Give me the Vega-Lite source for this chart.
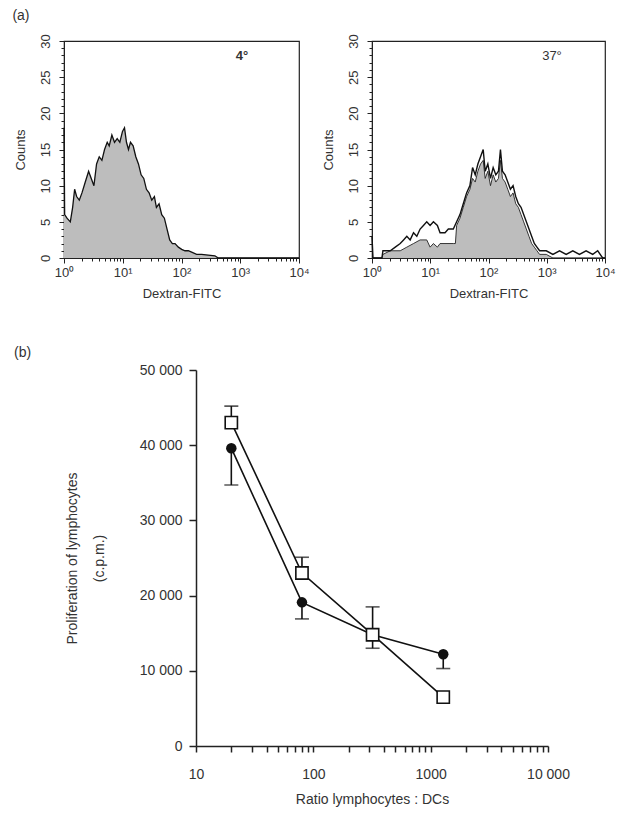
{
  "$schema": "https://vega.github.io/schema/vega-lite/v6.json",
  "background": "white",
  "padding": {"left": 12, "top": 9, "right": 5, "bottom": 5},
  "config": {
    "font": "Liberation Sans",
    "axis": {"labelFont": "Liberation Sans", "titleFont": "Liberation Sans", "labelColor": "#333", "titleColor": "#333", "titleFontWeight": "normal", "domainColor": "#222", "tickColor": "#222", "grid": false, "labelOverlap": false, "labelFlush": false, "labelBound": false},
    "title": {"font": "Liberation Sans", "fontWeight": "normal", "color": "#333"}
  },
  "datasets": {
    "hist4": [
      {"fitc": 1, "count": 18}, {"fitc": 1.026, "count": 6}, {"fitc": 1.124, "count": 5.5}, {"fitc": 1.281, "count": 5},
      {"fitc": 1.403, "count": 7}, {"fitc": 1.517, "count": 9.5}, {"fitc": 1.641, "count": 8.5}, {"fitc": 1.821, "count": 8},
      {"fitc": 2.021, "count": 9}, {"fitc": 2.302, "count": 10.5}, {"fitc": 2.623, "count": 12}, {"fitc": 2.91, "count": 11},
      {"fitc": 3.231, "count": 10}, {"fitc": 3.584, "count": 13}, {"fitc": 3.978, "count": 14}, {"fitc": 4.416, "count": 13.5},
      {"fitc": 4.9, "count": 15}, {"fitc": 5.44, "count": 16}, {"fitc": 5.88, "count": 15.5}, {"fitc": 6.53, "count": 17},
      {"fitc": 7.24, "count": 16}, {"fitc": 8.04, "count": 16.5}, {"fitc": 8.92, "count": 16}, {"fitc": 9.9, "count": 17.5},
      {"fitc": 10.71, "count": 18}, {"fitc": 11.58, "count": 16}, {"fitc": 12.52, "count": 15}, {"fitc": 13.54, "count": 16},
      {"fitc": 15.03, "count": 15.5}, {"fitc": 16.68, "count": 14}, {"fitc": 18.51, "count": 13}, {"fitc": 20.54, "count": 11.5},
      {"fitc": 22.8, "count": 11}, {"fitc": 25.3, "count": 9.5}, {"fitc": 28.08, "count": 9}, {"fitc": 31.16, "count": 8},
      {"fitc": 34.58, "count": 8.5}, {"fitc": 37.4, "count": 7}, {"fitc": 41.51, "count": 7.5}, {"fitc": 46.06, "count": 6},
      {"fitc": 51.12, "count": 5.5}, {"fitc": 56.74, "count": 4}, {"fitc": 62.97, "count": 2.5}, {"fitc": 69.89, "count": 2},
      {"fitc": 77.56, "count": 2}, {"fitc": 88.39, "count": 1.5}, {"fitc": 100.7, "count": 1.2}, {"fitc": 114.7, "count": 1},
      {"fitc": 130.6, "count": 1}, {"fitc": 148.8, "count": 0.8}, {"fitc": 180.9, "count": 0.5}, {"fitc": 219.9, "count": 0.5},
      {"fitc": 285.4, "count": 0.4}, {"fitc": 370.4, "count": 0.3}, {"fitc": 421.9, "count": 0}, {"fitc": 10000, "count": 0}
    ],
    "hist37": [
      {"curve": "open", "fitc": 1, "count": 3}, {"curve": "open", "fitc": 1.04, "count": 0}, {"curve": "open", "fitc": 1.48, "count": 0},
      {"curve": "open", "fitc": 1.54, "count": 1}, {"curve": "open", "fitc": 2.06, "count": 1}, {"curve": "open", "fitc": 2.51, "count": 1.5},
      {"curve": "open", "fitc": 3.05, "count": 2}, {"curve": "open", "fitc": 3.48, "count": 2.5}, {"curve": "open", "fitc": 3.96, "count": 3},
      {"curve": "open", "fitc": 4.52, "count": 2.5}, {"curve": "open", "fitc": 5.16, "count": 3.5}, {"curve": "open", "fitc": 5.88, "count": 3},
      {"curve": "open", "fitc": 6.7, "count": 4}, {"curve": "open", "fitc": 7.64, "count": 4.5}, {"curve": "open", "fitc": 8.71, "count": 5},
      {"curve": "open", "fitc": 9.94, "count": 4.5}, {"curve": "open", "fitc": 11.33, "count": 5}, {"curve": "open", "fitc": 13.26, "count": 4.5},
      {"curve": "open", "fitc": 14.73, "count": 3.5}, {"curve": "open", "fitc": 17.93, "count": 3.5}, {"curve": "open", "fitc": 20.44, "count": 4},
      {"curve": "open", "fitc": 24.89, "count": 4}, {"curve": "open", "fitc": 28.38, "count": 5}, {"curve": "open", "fitc": 32.36, "count": 6},
      {"curve": "open", "fitc": 36.9, "count": 7.5}, {"curve": "open", "fitc": 42.06, "count": 9}, {"curve": "open", "fitc": 47.96, "count": 10},
      {"curve": "open", "fitc": 53.28, "count": 12.5}, {"curve": "open", "fitc": 59.17, "count": 11.5}, {"curve": "open", "fitc": 65.73, "count": 13},
      {"curve": "open", "fitc": 72.99, "count": 14}, {"curve": "open", "fitc": 81.08, "count": 15}, {"curve": "open", "fitc": 87.7, "count": 12},
      {"curve": "open", "fitc": 97.41, "count": 13}, {"curve": "open", "fitc": 108.2, "count": 11}, {"curve": "open", "fitc": 120.2, "count": 12.5},
      {"curve": "open", "fitc": 133.5, "count": 11.5}, {"curve": "open", "fitc": 148.2, "count": 12}, {"curve": "open", "fitc": 160.4, "count": 15},
      {"curve": "open", "fitc": 173.5, "count": 12}, {"curve": "open", "fitc": 192.7, "count": 11.5}, {"curve": "open", "fitc": 214.1, "count": 10.5},
      {"curve": "open", "fitc": 237.8, "count": 9.5}, {"curve": "open", "fitc": 264.1, "count": 10}, {"curve": "open", "fitc": 293.3, "count": 8.5},
      {"curve": "open", "fitc": 325.7, "count": 7.5}, {"curve": "open", "fitc": 361.8, "count": 7}, {"curve": "open", "fitc": 401.8, "count": 6},
      {"curve": "open", "fitc": 446.3, "count": 5}, {"curve": "open", "fitc": 495.7, "count": 4}, {"curve": "open", "fitc": 550.4, "count": 3},
      {"curve": "open", "fitc": 611.4, "count": 2}, {"curve": "open", "fitc": 679, "count": 1.5}, {"curve": "open", "fitc": 754.2, "count": 1},
      {"curve": "open", "fitc": 980.6, "count": 1}, {"curve": "open", "fitc": 1275, "count": 0.5}, {"curve": "open", "fitc": 1658, "count": 1},
      {"curve": "open", "fitc": 2154, "count": 0.5}, {"curve": "open", "fitc": 2801, "count": 1}, {"curve": "open", "fitc": 3641, "count": 0.5},
      {"curve": "open", "fitc": 4734, "count": 1}, {"curve": "open", "fitc": 6155, "count": 0.5}, {"curve": "open", "fitc": 7493, "count": 1},
      {"curve": "open", "fitc": 9124, "count": 0}, {"curve": "open", "fitc": 10000, "count": 0},
      {"curve": "filled", "fitc": 1, "count": 0}, {"curve": "filled", "fitc": 1.48, "count": 0}, {"curve": "filled", "fitc": 1.54, "count": 0.5},
      {"curve": "filled", "fitc": 2.06, "count": 1}, {"curve": "filled", "fitc": 3.05, "count": 1}, {"curve": "filled", "fitc": 3.96, "count": 1.5},
      {"curve": "filled", "fitc": 5.16, "count": 2}, {"curve": "filled", "fitc": 6.7, "count": 2.5}, {"curve": "filled", "fitc": 8.71, "count": 2.5},
      {"curve": "filled", "fitc": 9.94, "count": 1.5}, {"curve": "filled", "fitc": 11.33, "count": 2}, {"curve": "filled", "fitc": 13.26, "count": 1.5},
      {"curve": "filled", "fitc": 14.73, "count": 2}, {"curve": "filled", "fitc": 17.93, "count": 2}, {"curve": "filled", "fitc": 24.89, "count": 2},
      {"curve": "filled", "fitc": 27, "count": 2}, {"curve": "filled", "fitc": 28.38, "count": 4.5}, {"curve": "filled", "fitc": 32.36, "count": 5.5},
      {"curve": "filled", "fitc": 36.9, "count": 7}, {"curve": "filled", "fitc": 42.06, "count": 8.5}, {"curve": "filled", "fitc": 47.96, "count": 9.5},
      {"curve": "filled", "fitc": 53.28, "count": 11}, {"curve": "filled", "fitc": 59.17, "count": 10.5}, {"curve": "filled", "fitc": 65.73, "count": 12},
      {"curve": "filled", "fitc": 72.99, "count": 13}, {"curve": "filled", "fitc": 81.08, "count": 13.5}, {"curve": "filled", "fitc": 87.7, "count": 11},
      {"curve": "filled", "fitc": 97.41, "count": 12}, {"curve": "filled", "fitc": 108.2, "count": 10}, {"curve": "filled", "fitc": 120.2, "count": 11.5},
      {"curve": "filled", "fitc": 133.5, "count": 10.5}, {"curve": "filled", "fitc": 148.2, "count": 11}, {"curve": "filled", "fitc": 160.4, "count": 13.5},
      {"curve": "filled", "fitc": 173.5, "count": 11}, {"curve": "filled", "fitc": 192.7, "count": 10.5}, {"curve": "filled", "fitc": 214.1, "count": 9.5},
      {"curve": "filled", "fitc": 237.8, "count": 8.5}, {"curve": "filled", "fitc": 264.1, "count": 9}, {"curve": "filled", "fitc": 293.3, "count": 7.5},
      {"curve": "filled", "fitc": 325.7, "count": 7}, {"curve": "filled", "fitc": 361.8, "count": 6}, {"curve": "filled", "fitc": 401.8, "count": 5},
      {"curve": "filled", "fitc": 446.3, "count": 4}, {"curve": "filled", "fitc": 495.7, "count": 3}, {"curve": "filled", "fitc": 550.4, "count": 2},
      {"curve": "filled", "fitc": 611.4, "count": 1.5}, {"curve": "filled", "fitc": 679, "count": 1}, {"curve": "filled", "fitc": 754.2, "count": 0.5},
      {"curve": "filled", "fitc": 980.6, "count": 0.5}, {"curve": "filled", "fitc": 1275, "count": 0}, {"curve": "filled", "fitc": 10000, "count": 0}
    ],
    "prolif": [
      {"ratio": 20, "cpm": 39600, "series": "circle", "err": 34700},
      {"ratio": 80, "cpm": 19100, "series": "circle", "err": 16900},
      {"ratio": 320, "cpm": 14800, "series": "circle", "err": 13000},
      {"ratio": 1280, "cpm": 12200, "series": "circle", "err": 10300},
      {"ratio": 20, "cpm": 43000, "series": "square", "err": 45200},
      {"ratio": 80, "cpm": 23000, "series": "square", "err": 25100},
      {"ratio": 320, "cpm": 14800, "series": "square", "err": 18500},
      {"ratio": 1280, "cpm": 6500, "series": "square", "err": null}
    ]
  },
  "vconcat": [
    {
      "title": {"text": "(a)", "anchor": "start", "frame": "bounds", "fontSize": 14, "offset": 10, "dx": -1},
      "spacing": 11,
      "hconcat": [
        {
          "width": 235, "height": 217,
          "view": {"stroke": "#222", "strokeWidth": 1.2},
          "data": {"name": "hist4"},
          "encoding": {
            "x": {"field": "fitc", "type": "quantitative", "scale": {"type": "log", "domain": [1, 10000], "nice": false},
              "axis": {"title": "Dextran-FITC", "titleFontSize": 13, "labelFontSize": 13, "titlePadding": 8, "labelPadding": 3,
                "values": [1,2,3,4,5,6,7,8,9,10,20,30,40,50,60,70,80,90,100,200,300,400,500,600,700,800,900,1000,2000,3000,4000,5000,6000,7000,8000,9000,10000],
                "labelExpr": "datum.value == 1 ? '10⁰' : datum.value == 10 ? '10¹' : datum.value == 100 ? '10²' : datum.value == 1000 ? '10³' : datum.value == 10000 ? '10⁴' : ''",
                "tickSize": {"condition": {"test": "datum.value == 1 || datum.value == 10 || datum.value == 100 || datum.value == 1000 || datum.value == 10000", "value": 5}, "value": 3}}},
            "y": {"field": "count", "type": "quantitative", "scale": {"domain": [0, 30], "nice": false},
              "axis": {"title": "Counts", "titleFontSize": 13, "labelFontSize": 13, "labelAngle": 270, "labelAlign": "center", "labelBaseline": "bottom", "labelPadding": 7, "titlePadding": 12,
                "values": [0,1,2,3,4,5,6,7,8,9,10,11,12,13,14,15,16,17,18,19,20,21,22,23,24,25,26,27,28,29,30],
                "labelExpr": "datum.value % 5 == 0 ? datum.label : ''",
                "tickSize": {"condition": {"test": "datum.value % 5 == 0", "value": 5}, "value": 3}}}
          },
          "layer": [
            {"mark": {"type": "area", "color": "#bdbdbd", "opacity": 1}},
            {"mark": {"type": "line", "color": "#111", "strokeWidth": 1.3}},
            {"transform": [{"filter": "datum.fitc == 10000"}],
              "mark": {"type": "text", "text": "4°", "fontSize": 13, "fontWeight": "bold", "color": "#333"},
              "encoding": {"x": {"datum": 1070, "type": "quantitative"}, "y": {"datum": 27.9, "type": "quantitative"}}}
          ]
        },
        {
          "width": 233, "height": 217,
          "view": {"stroke": "#222", "strokeWidth": 1.2},
          "data": {"name": "hist37"},
          "encoding": {
            "x": {"field": "fitc", "type": "quantitative", "scale": {"type": "log", "domain": [1, 10000], "nice": false},
              "axis": {"title": "Dextran-FITC", "titleFontSize": 13, "labelFontSize": 13, "titlePadding": 8, "labelPadding": 3,
                "values": [1,2,3,4,5,6,7,8,9,10,20,30,40,50,60,70,80,90,100,200,300,400,500,600,700,800,900,1000,2000,3000,4000,5000,6000,7000,8000,9000,10000],
                "labelExpr": "datum.value == 1 ? '10⁰' : datum.value == 10 ? '10¹' : datum.value == 100 ? '10²' : datum.value == 1000 ? '10³' : datum.value == 10000 ? '10⁴' : ''",
                "tickSize": {"condition": {"test": "datum.value == 1 || datum.value == 10 || datum.value == 100 || datum.value == 1000 || datum.value == 10000", "value": 5}, "value": 3}}},
            "y": {"field": "count", "type": "quantitative", "scale": {"domain": [0, 30], "nice": false},
              "axis": {"title": "Counts", "titleFontSize": 13, "labelFontSize": 13, "labelAngle": 270, "labelAlign": "center", "labelBaseline": "bottom", "labelPadding": 7, "titlePadding": 12,
                "values": [0,1,2,3,4,5,6,7,8,9,10,11,12,13,14,15,16,17,18,19,20,21,22,23,24,25,26,27,28,29,30],
                "labelExpr": "datum.value % 5 == 0 ? datum.label : ''",
                "tickSize": {"condition": {"test": "datum.value % 5 == 0", "value": 5}, "value": 3}}}
          },
          "layer": [
            {"transform": [{"filter": "datum.curve == 'filled'"}], "mark": {"type": "area", "color": "#bdbdbd", "opacity": 1}},
            {"transform": [{"filter": "datum.curve == 'filled'"}], "mark": {"type": "line", "color": "#222", "strokeWidth": 0.9}},
            {"transform": [{"filter": "datum.curve == 'open'"}], "mark": {"type": "line", "color": "#111", "strokeWidth": 1.4}},
            {"transform": [{"filter": "datum.fitc == 10000 && datum.curve == 'open'"}],
              "mark": {"type": "text", "text": "37°", "fontSize": 13, "color": "#333"},
              "encoding": {"x": {"datum": 1230, "type": "quantitative"}, "y": {"datum": 27.9, "type": "quantitative"}}}
          ]
        }
      ]
    },
    {
      "title": {"text": "(b)", "anchor": "start", "frame": "bounds", "fontSize": 14, "dx": -50, "offset": 3},
      "spacing": 0,
      "hconcat": [
        {"width": 1, "height": 1, "data": {"values": []}, "mark": {"type": "point", "opacity": 0}, "encoding": {}, "view": {"stroke": null}},
        {
          "width": 352, "height": 376,
          "view": {"stroke": null},
          "data": {"name": "prolif"},
          "encoding": {
            "x": {"field": "ratio", "type": "quantitative", "scale": {"type": "log", "domain": [10, 10000], "nice": false},
              "axis": {"title": "Ratio lymphocytes : DCs", "titleFontSize": 14, "labelFontSize": 14, "titlePadding": 11, "tickSize": 6, "tickWidth": 1.5, "domainWidth": 1.5, "labelPadding": 15,
                "values": [10,20,30,40,50,60,70,80,90,100,200,300,400,500,600,700,800,900,1000,2000,3000,4000,5000,6000,7000,8000,9000,10000],
                "labelExpr": "datum.value == 10000 ? '10 000' : (datum.value == 10 || datum.value == 100 || datum.value == 1000) ? format(datum.value, 'd') : ''"}},
            "y": {"field": "cpm", "type": "quantitative", "scale": {"domain": [0, 50000], "nice": false},
              "axis": {"title": ["Proliferation of lymphocytes", "(c.p.m.)"], "titleFontSize": 14, "titleLineHeight": 27, "labelFontSize": 14, "titlePadding": 33, "tickSize": 7, "tickWidth": 1.5, "domainWidth": 1.5, "labelPadding": 7,
                "values": [0, 10000, 20000, 30000, 40000, 50000],
                "labelExpr": "replace(format(datum.value, ','), ',', ' ')"}}
          },
          "layer": [
            {"mark": {"type": "line", "color": "#111", "strokeWidth": 1.6}, "encoding": {"detail": {"field": "series"}}},
            {"transform": [{"filter": "isValid(datum.err)"}], "mark": {"type": "rule", "color": "#111", "strokeWidth": 1.6}, "encoding": {"y2": {"field": "err"}}},
            {"transform": [{"filter": "isValid(datum.err)"}], "mark": {"type": "tick", "orient": "horizontal", "color": "#111", "size": 14, "thickness": 1.6}, "encoding": {"y": {"field": "err", "type": "quantitative"}}},
            {"transform": [{"filter": "datum.series == 'circle'"}], "mark": {"type": "point", "shape": "circle", "filled": true, "color": "#111", "size": 110, "opacity": 1}},
            {"transform": [{"filter": "datum.series == 'square'"}], "mark": {"type": "point", "shape": "square", "filled": true, "fill": "white", "stroke": "#111", "strokeWidth": 1.6, "size": 150, "opacity": 1}}
          ]
        }
      ]
    }
  ],
  "spacing": 45
}
